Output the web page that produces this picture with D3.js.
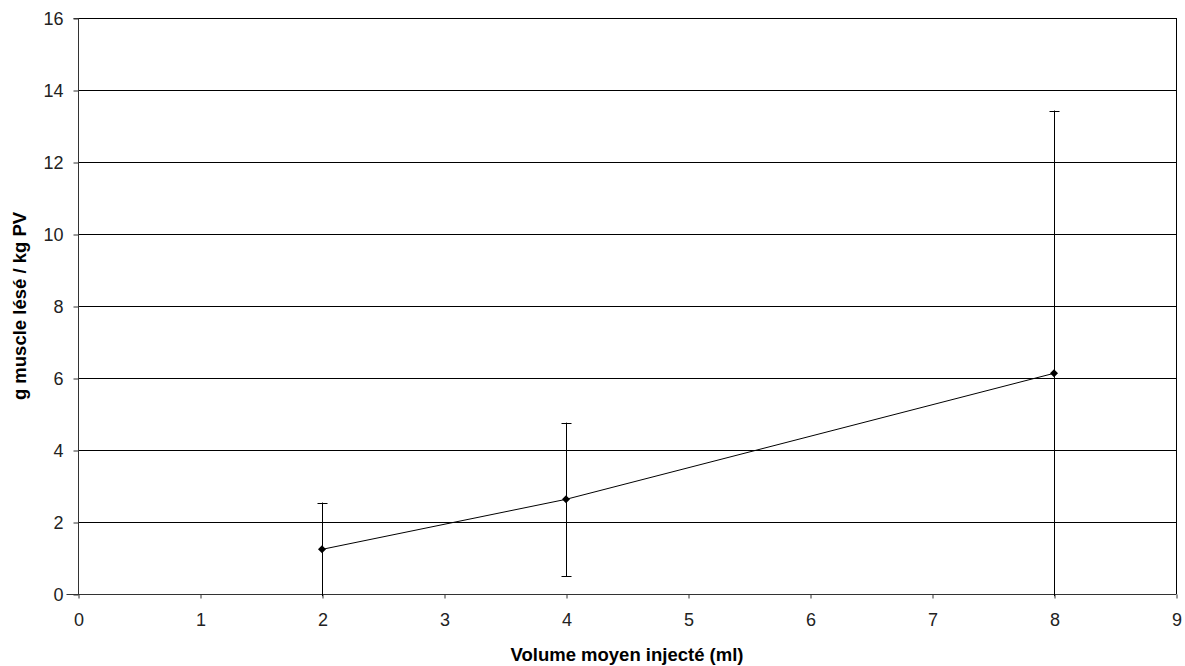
<!DOCTYPE html>
<html><head><meta charset="utf-8">
<script src="https://cdn.jsdelivr.net/npm/d3@7"></script>
<style>body{margin:0;background:#fff}svg{display:block}text{font-family:"Liberation Sans",Arial,sans-serif}</style>
</head><body><svg id="c" width="1185" height="666"></svg>
<script>
const xValues = [2, 4, 8];
const yValues = [1.24, 2.63, 6.13];
const errValues = [1.3, 2.13, 7.3];
const xTicks = [0,1,2,3,4,5,6,7,8,9];
const yTicks = [0,2,4,6,8,10,12,14,16];
const xTitle = "Volume moyen injecté (ml)";
const yTitle = "g muscle lésé / kg PV";

const svg = d3.select("#c");
const L=78, R=1176, T=18, B=594;
const x = d3.scaleLinear().domain([0,9]).range([L,R]);
const y = d3.scaleLinear().domain([0,16]).range([B,T]);
const col="#000";

// gridlines
svg.append("g").selectAll("line").data(yTicks.filter(d=>d>0)).join("line")
 .attr("x1",L).attr("x2",R).attr("y1",d=>y(d)+0.5).attr("y2",d=>y(d)+0.5)
 .attr("stroke",col).attr("stroke-width",1);
// right border
svg.append("line").attr("x1",R+0.5).attr("x2",R+0.5).attr("y1",T).attr("y2",B).attr("stroke",col);

// axes
const yAxis = d3.axisLeft(y).tickValues(yTicks).tickSize(5).tickPadding(10).tickFormat(d3.format("d"));
const gy = svg.append("g").attr("transform",`translate(${L+0.5},0.5)`).call(yAxis);
const xAxis = d3.axisBottom(x).tickValues(xTicks).tickSize(4).tickPadding(15).tickFormat(d3.format("d"));
const gx = svg.append("g").attr("transform",`translate(0.5,${B+0.5})`).call(xAxis);
[gx,gy].forEach(g=>{
  g.select(".domain").attr("stroke","#333");
  g.selectAll(".tick line").attr("stroke","#333");
  g.selectAll("text").attr("font-size",18).attr("fill","#222").attr("font-family","\"Liberation Sans\",Arial,sans-serif");
});
gy.select(".domain").attr("d",`M-5,${T}H0V${B}`);
gx.select(".domain").attr("d",`M${L-12},0H${R}`);

// error bars
const g = svg.append("g");
xValues.forEach((xv,i)=>{
  const top = yValues[i]+errValues[i];
  const bot = Math.max(yValues[i]-errValues[i], -0.06);
  const cx = Math.round(x(xv))+0.5;
  g.append("line").attr("x1",cx).attr("x2",cx).attr("y1",y(top)).attr("y2",y(bot)).attr("stroke",col);
  g.append("line").attr("x1",cx-5).attr("x2",cx+5).attr("y1",Math.round(y(top))+0.5).attr("y2",Math.round(y(top))+0.5).attr("stroke",col);
  if (yValues[i]-errValues[i] >= -0.06)
    g.append("line").attr("x1",cx-5).attr("x2",cx+5).attr("y1",Math.round(y(bot))+0.5).attr("y2",Math.round(y(bot))+0.5).attr("stroke",col);
});
// line
const pts = xValues.map((d,i)=>[x(d),y(yValues[i])]);
svg.append("path").attr("d",d3.line()(pts)).attr("fill","none").attr("stroke",col).attr("stroke-width",1);
// markers
svg.append("g").selectAll("path").data(pts).join("path")
 .attr("transform",d=>`translate(${d[0]},${d[1]})`)
 .attr("d","M0,-4L4,0L0,4L-4,0Z").attr("fill",col);

// titles
svg.append("text").attr("x",(L+R)/2).attr("y",661).attr("text-anchor","middle")
 .attr("font-size",18.5).attr("font-weight","bold").attr("fill","#000").text(xTitle);
svg.append("text").attr("transform",`translate(26,${(T+B)/2}) rotate(-90)`).attr("text-anchor","middle")
 .attr("font-size",18.5).attr("font-weight","bold").attr("fill","#000").text(yTitle);
</script></body></html>
